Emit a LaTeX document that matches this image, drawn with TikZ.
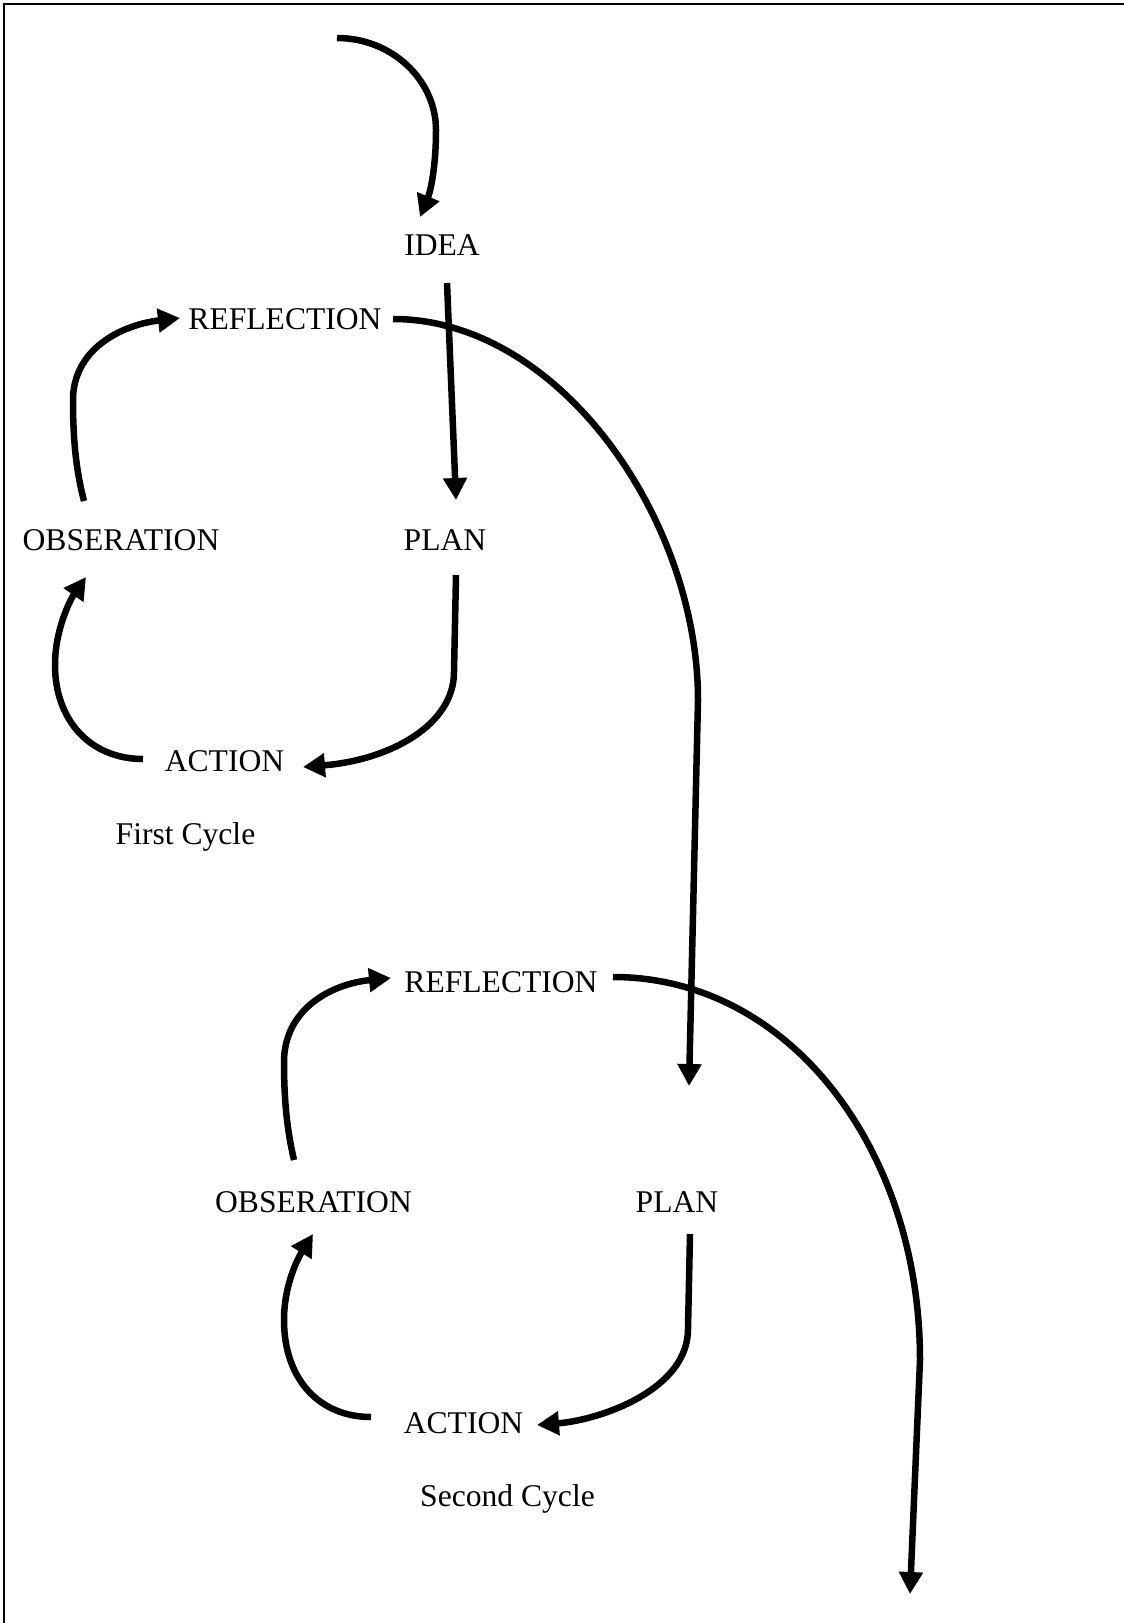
\documentclass[tikz,border=0pt]{standalone}
\usepackage{fontspec}
\setmainfont{Liberation Serif}
\usetikzlibrary{arrows.meta}
\begin{document}
\begin{tikzpicture}[x=1pt,y=-1pt,
  lbl/.style={anchor=base, inner sep=0pt, font=\fontsize{31.6}{38}\selectfont},
  conn/.style={line width=6.5pt, -{Triangle[length=22pt,width=23pt]}},
  frameline/.style={line width=2pt}]
\useasboundingbox (0,0) rectangle (1124,1623);
\draw[frameline] (4,1623) -- (4,4) -- (1124,4);

% first cycle
\node[lbl] (idea)  at (442,255) {IDEA};
\node[lbl] (refl1) at (285,329) {REFLECTION};
\node[lbl] (obs1)  at (121,550) {OBSERATION};
\node[lbl] (plan1) at (445,550) {PLAN};
\node[lbl] (act1)  at (224.5,771) {ACTION};
\node[lbl] (cyc1)  at (185.5,844) {First Cycle};

% second cycle
\node[lbl] (refl2) at (501,992) {REFLECTION};
\node[lbl] (obs2)  at (313.5,1212) {OBSERATION};
\node[lbl] (plan2) at (677,1212) {PLAN};
\node[lbl] (act2)  at (463.5,1433) {ACTION};
\node[lbl] (cyc2)  at (507.5,1506) {Second Cycle};

\coordinate (topstart) at (337,38);
\coordinate (endpt) at (910,1594);

% connectors
\draw[conn] (topstart) .. controls (392,38) and (436,80) .. (436,130)
  .. controls (436,165) and (431,190) .. ([shift={(-22,-38)}]idea.base);
\draw[conn] ([shift={(5,28)}]idea.base) -- ([shift={(11,-50)}]plan1.base);
\draw[conn] ([shift={(108,-10)}]refl1.base) .. controls (560,319) and (698,520) .. (698,700)
  -- ([shift={(12,-126)}]plan2.base);
\draw[conn] ([shift={(-37,-49)}]obs1.base) .. controls (76,470) and (73,440) .. (73,400)
  .. controls (73,350) and (120,325) .. ([shift={(-105,-11)}]refl1.base);
\draw[conn] ([shift={(11,25)}]plan1.base) -- (454,672)
  .. controls (454,725) and (390,760) .. ([shift={(78.5,-4)}]act1.base);
\draw[conn] ([shift={(-81.5,-12)}]act1.base) .. controls (90,759) and (55,720) .. (55,665)
  .. controls (55,630) and (70,600) .. ([shift={(-35,27)}]obs1.base);

\draw[conn] ([shift={(-19.5,-52)}]obs2.base) .. controls (287,1130) and (284,1100) .. (284,1062)
  .. controls (284,1010) and (330,984) .. ([shift={(-110,-14)}]refl2.base);
\draw[conn] ([shift={(112,-15)}]refl2.base) .. controls (790,977) and (920,1150) .. (920,1360)
  -- (endpt);
\draw[conn] ([shift={(13,22)}]plan2.base) -- (688,1329)
  .. controls (688,1390) and (600,1420) .. ([shift={(73.5,-8)}]act2.base);
\draw[conn] ([shift={(-92.5,-16)}]act2.base) .. controls (320,1417) and (284,1380) .. (284,1320)
  .. controls (284,1285) and (298,1258) .. ([shift={(-0.5,22)}]obs2.base);
\end{tikzpicture}
\end{document}
